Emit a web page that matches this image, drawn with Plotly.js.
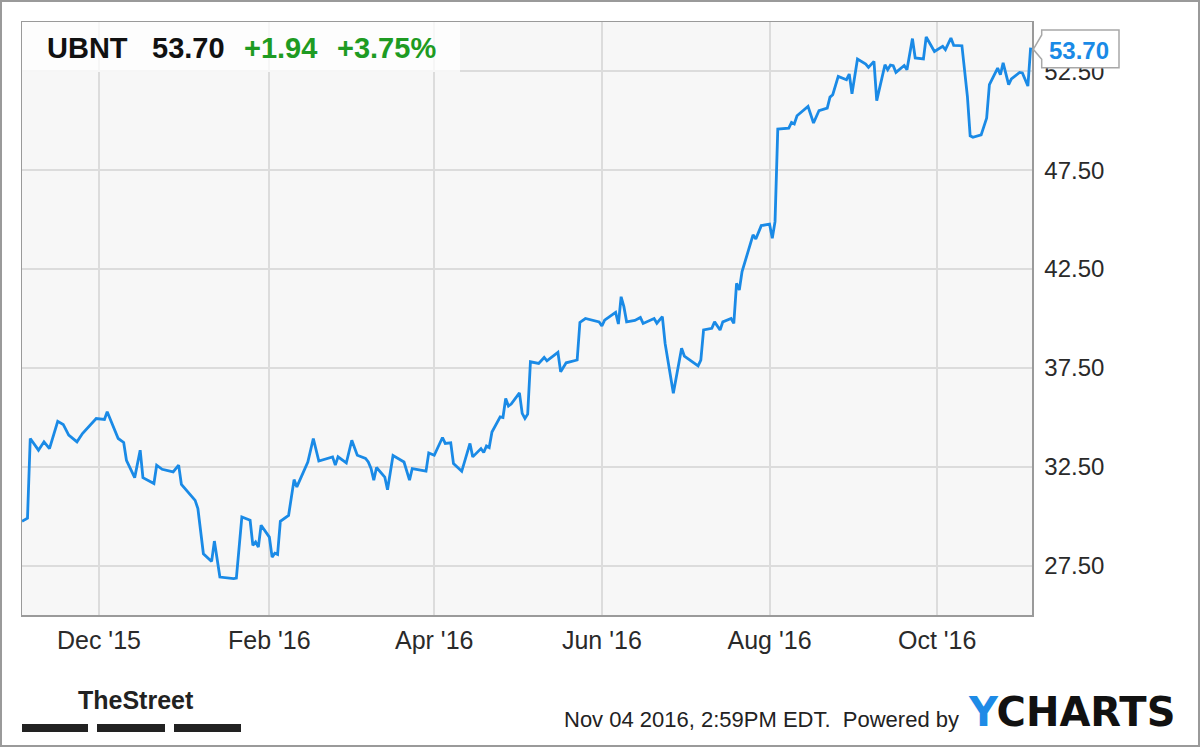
<!DOCTYPE html>
<html>
<head>
<meta charset="utf-8">
<script src="https://cdn.plot.ly/plotly-3.0.1.min.js"></script>
<style>
html,body{margin:0;padding:0;background:#fff;}
#wrap{position:relative;width:1200px;height:747px;}
#chart{width:1200px;height:747px;}
#frame{position:absolute;left:0;top:0;width:1200px;height:747px;box-sizing:border-box;border:2px solid #9a9a9a;pointer-events:none;}
</style>
</head>
<body>
<div id="wrap"><div id="chart"></div><div id="frame"></div></div>
<script>
// ---- data ----
const dates = [
'2015-11-03','2015-11-05','2015-11-06','2015-11-09','2015-11-11','2015-11-13','2015-11-16','2015-11-18','2015-11-20','2015-11-23',
'2015-11-25','2015-11-30','2015-12-03','2015-12-04','2015-12-08','2015-12-10','2015-12-11','2015-12-14','2015-12-16','2015-12-17',
'2015-12-21','2015-12-22','2015-12-24','2015-12-28','2015-12-30','2015-12-31','2016-01-05','2016-01-06','2016-01-08','2016-01-11',
'2016-01-12','2016-01-14','2016-01-19','2016-01-20','2016-01-22','2016-01-25','2016-01-26','2016-01-27','2016-01-28','2016-01-29',
'2016-02-01','2016-02-02','2016-02-03','2016-02-04','2016-02-05','2016-02-08','2016-02-10','2016-02-11','2016-02-15','2016-02-17',
'2016-02-19','2016-02-22','2016-02-24','2016-02-25','2016-02-26','2016-02-29','2016-03-02','2016-03-04','2016-03-07','2016-03-08',
'2016-03-09','2016-03-10','2016-03-11','2016-03-14','2016-03-15','2016-03-17','2016-03-21','2016-03-23','2016-03-24','2016-03-29',
'2016-03-30','2016-04-01','2016-04-04','2016-04-05','2016-04-07','2016-04-08','2016-04-11','2016-04-14','2016-04-15','2016-04-18',
'2016-04-19','2016-04-20','2016-04-21','2016-04-22','2016-04-25','2016-04-26','2016-04-27','2016-04-28','2016-04-29','2016-05-02',
'2016-05-03','2016-05-04','2016-05-05','2016-05-06','2016-05-09','2016-05-11','2016-05-12','2016-05-16','2016-05-17','2016-05-19',
'2016-05-23','2016-05-24','2016-05-26','2016-05-31','2016-06-01','2016-06-02','2016-06-06','2016-06-07','2016-06-08','2016-06-09',
'2016-06-10','2016-06-13','2016-06-15','2016-06-16','2016-06-20','2016-06-21','2016-06-23','2016-06-24','2016-06-27','2016-06-30',
'2016-07-01','2016-07-06','2016-07-07','2016-07-08','2016-07-11','2016-07-12','2016-07-14','2016-07-15','2016-07-18','2016-07-19',
'2016-07-20','2016-07-21','2016-07-22','2016-07-26','2016-07-27','2016-07-29','2016-08-01','2016-08-02','2016-08-03','2016-08-04',
'2016-08-08','2016-08-09','2016-08-10','2016-08-11','2016-08-15','2016-08-17','2016-08-19','2016-08-22','2016-08-23','2016-08-24',
'2016-08-26','2016-08-29','2016-08-30','2016-08-31','2016-09-02','2016-09-05','2016-09-06','2016-09-08','2016-09-09','2016-09-12',
'2016-09-13','2016-09-14','2016-09-15','2016-09-16','2016-09-19','2016-09-20','2016-09-22','2016-09-23','2016-09-26','2016-09-27',
'2016-09-30','2016-10-03','2016-10-04','2016-10-06','2016-10-07','2016-10-10','2016-10-12','2016-10-13','2016-10-14','2016-10-17',
'2016-10-19','2016-10-20','2016-10-23','2016-10-24','2016-10-25','2016-10-27','2016-10-28','2016-10-31','2016-11-01','2016-11-03',
'2016-11-04'
];
const prices = [
29.74,29.90,33.93,33.34,33.76,33.42,34.80,34.64,34.10,33.76,
34.18,34.94,34.89,35.28,33.93,33.73,32.83,31.95,33.34,31.95,
31.65,32.58,32.37,32.24,32.58,31.61,30.80,30.38,28.10,27.71,
28.74,26.92,26.84,26.87,29.96,29.79,28.52,28.69,28.44,29.54,
28.94,27.93,28.13,28.07,29.74,30.04,31.85,31.48,32.74,33.93,
32.79,32.92,33.00,32.58,33.00,32.69,33.84,33.08,32.92,32.74,
32.41,31.82,32.46,31.98,31.34,33.07,32.74,31.82,32.41,32.28,
33.20,33.08,33.98,33.68,33.71,32.66,32.27,33.68,33.00,33.42,
33.22,33.55,33.47,34.26,35.02,34.99,35.95,35.57,35.67,36.24,
35.20,34.94,35.16,37.81,37.73,38.03,37.86,38.29,37.30,37.76,
37.90,39.80,40.00,39.83,39.62,39.92,40.31,39.72,41.10,40.60,
39.83,39.90,40.05,39.75,40.00,39.76,40.10,38.74,36.22,38.50,
38.10,37.60,37.90,39.42,39.50,39.83,39.42,39.83,40.00,39.75,
41.78,41.44,42.37,44.23,44.02,44.70,44.78,44.06,44.90,49.58,
49.63,49.92,49.84,50.26,50.73,49.89,50.52,50.64,51.20,51.32,
52.25,52.08,52.37,51.37,53.13,52.87,52.70,53.01,51.02,52.84,
52.59,52.82,52.79,52.45,52.80,52.59,54.16,53.18,53.13,54.24,
53.51,53.77,53.60,54.19,53.82,53.80,51.23,49.24,49.17,49.29,
50.14,51.83,52.67,52.33,52.93,51.83,52.12,52.45,52.42,51.76,
53.70
];
const xTickVals = ['2015-12-01','2016-02-01','2016-04-01','2016-06-01','2016-08-01','2016-10-01'];
const xTickText = ["Dec '15","Feb '16","Apr '16","Jun '16","Aug '16","Oct '16"];
const yTickVals = [27.5,32.5,37.5,42.5,47.5,52.5];
const yTickText = ['27.50','32.50','37.50','42.50','47.50','52.50'];
const ticker = 'UBNT';
const lastPrice = '53.70';
const change = '+1.94';
const changePct = '+3.75%';
const stamp = 'Nov 04 2016, 2:59PM EDT.\u00a0 Powered by';

// ---- layout helpers (pixel -> paper) ----
const L = 22, R = 1032, T = 22, B = 615;
const px = x => (x - L) / (R - L);
const py = y => (B - y) / (B - T);
const FONT = 'Liberation Sans, Arial, Helvetica, sans-serif';
const BLUE = '#1a8ae6';
const GREEN = '#1e9b22';

const trace = {
  x: dates, y: prices, type: 'scatter', mode: 'lines',
  line: {color: BLUE, width: 2.8}, hoverinfo: 'skip', cliponaxis: true
};

const callout = 'M ' + px(1041.7) + ' ' + py(30) + ' L ' + px(1119) + ' ' + py(30) +
  ' L ' + px(1119) + ' ' + py(67.7) + ' L ' + px(1041.7) + ' ' + py(67.7) +
  ' L ' + px(1041.7) + ' ' + py(59.3) + ' L ' + px(1033.3) + ' ' + py(49.3) +
  ' L ' + px(1041.7) + ' ' + py(35) + ' Z';

const layout = {
  width: 1200, height: 747,
  margin: {l: L, r: 1200 - R, t: T, b: 747 - B, pad: 0},
  paper_bgcolor: '#ffffff', plot_bgcolor: '#f7f7f7',
  showlegend: false,
  font: {family: FONT, color: '#333', size: 22},
  xaxis: {
    type: 'date', range: ['2015-11-03', '2016-11-04 12:00'], fixedrange: true,
    tickvals: xTickVals, ticktext: xTickText, ticks: '',
    tickfont: {family: FONT, size: 25, color: '#2a2a2a'},
    showgrid: true, gridcolor: '#dcdcdc', gridwidth: 2,
    showline: true, linecolor: '#9a9a9a', linewidth: 1.5, mirror: true,
    zeroline: false, automargin: false, ticklabelstandoff: 2
  },
  yaxis: {
    range: [25, 55], side: 'right', fixedrange: true,
    tickvals: yTickVals, ticktext: yTickText, ticks: '',
    tickfont: {family: FONT, size: 24, color: '#2a2a2a'},
    showgrid: true, gridcolor: '#dcdcdc', gridwidth: 2,
    showline: true, linecolor: '#9a9a9a', linewidth: 1.5, mirror: true,
    zeroline: false, automargin: false, ticklabelstandoff: 6
  },
  shapes: [
    {type: 'rect', xref: 'paper', yref: 'paper', x0: 0, x1: px(460), y0: py(72), y1: 1,
     fillcolor: 'rgba(255,255,255,0.75)', line: {width: 0}, layer: 'above'},
    {type: 'path', xref: 'paper', yref: 'paper', path: callout,
     fillcolor: '#ffffff', line: {color: '#a8a8a8', width: 1.5}, layer: 'above'},
    {type: 'rect', xref: 'paper', yref: 'paper', x0: px(22), x1: px(88), y0: py(732), y1: py(724),
     fillcolor: '#222', line: {width: 0}},
    {type: 'rect', xref: 'paper', yref: 'paper', x0: px(97), x1: px(165), y0: py(732), y1: py(724),
     fillcolor: '#222', line: {width: 0}},
    {type: 'rect', xref: 'paper', yref: 'paper', x0: px(174), x1: px(241), y0: py(732), y1: py(724),
     fillcolor: '#222', line: {width: 0}}
  ],
  annotations: [
    {xref: 'paper', yref: 'paper', x: px(45), y: py(48), xanchor: 'left', yanchor: 'middle', showarrow: false,
     text: '<b>' + ticker + '</b>', font: {family: FONT, size: 29, color: '#111'}},
    {xref: 'paper', yref: 'paper', x: px(150), y: py(48), xanchor: 'left', yanchor: 'middle', showarrow: false,
     text: '<b>' + lastPrice + '</b>', font: {family: FONT, size: 29, color: '#111'}},
    {xref: 'paper', yref: 'paper', x: px(242), y: py(48), xanchor: 'left', yanchor: 'middle', showarrow: false,
     text: '<b>' + change + '</b>', font: {family: FONT, size: 29, color: GREEN}},
    {xref: 'paper', yref: 'paper', x: px(335), y: py(48), xanchor: 'left', yanchor: 'middle', showarrow: false,
     text: '<b>' + changePct + '</b>', font: {family: FONT, size: 29, color: GREEN}},
    {xref: 'paper', yref: 'paper', x: px(1079), y: py(50.5), xanchor: 'center', yanchor: 'middle', showarrow: false,
     text: '<b>' + lastPrice + '</b>', font: {family: FONT, size: 24, color: BLUE}},
    {xref: 'paper', yref: 'paper', x: px(562), y: py(719), xanchor: 'left', yanchor: 'middle', showarrow: false,
     text: stamp, font: {family: FONT, size: 22, color: '#222'}},
    {xref: 'paper', yref: 'paper', x: px(1177), y: py(712), xanchor: 'right', yanchor: 'middle', showarrow: false,
     text: '<b><span style="color:#1e8be6">Y</span>CHARTS</b>', font: {family: 'DejaVu Sans, sans-serif', size: 40, color: '#111'}},
    {xref: 'paper', yref: 'paper', x: px(76), y: py(700), xanchor: 'left', yanchor: 'middle', showarrow: false,
     text: '<b>TheStreet</b>', font: {family: FONT, size: 25, color: '#222'}}
  ]
};

Plotly.newPlot('chart', [trace], layout, {staticPlot: true, displayModeBar: false});
</script>
</body>
</html>
